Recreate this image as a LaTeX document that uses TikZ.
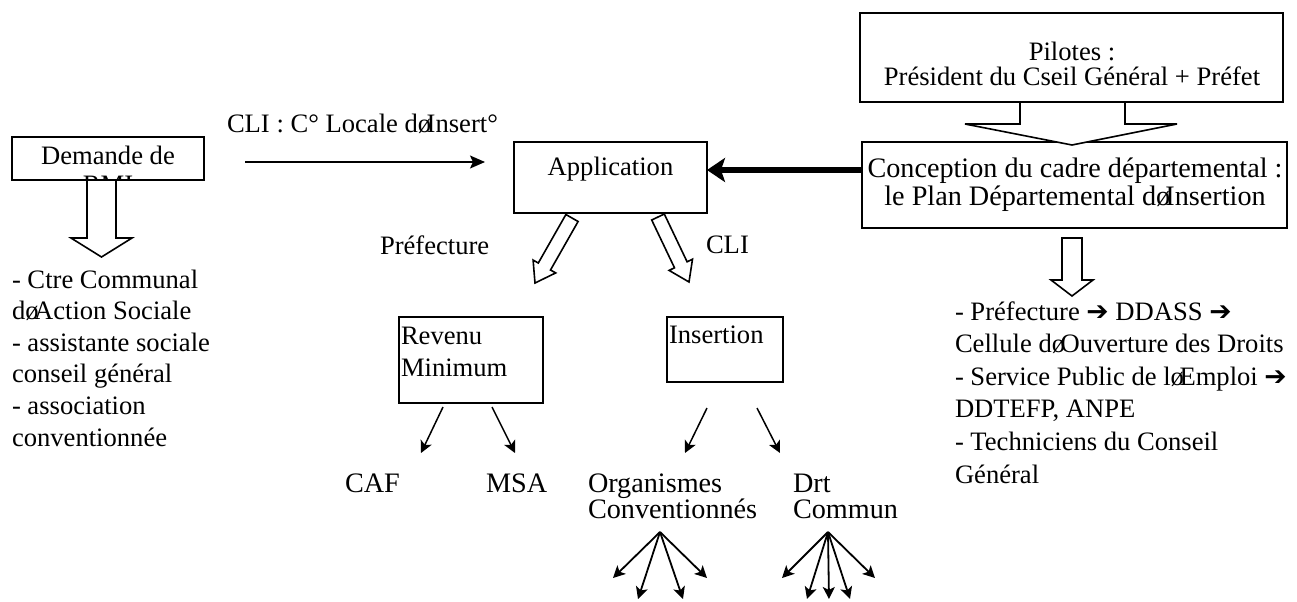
\documentclass[tikz,border=0pt]{standalone}
\usepackage{fontspec}
\setmainfont{Liberation Serif}
\newfontfamily\dejavu{DejaVu Sans}
\usetikzlibrary{arrows.meta,calc}
\newcommand{\apo}[1]{dø\kern-.17em #1}
\newcommand{\rarr}{{\dejavu ➔}}
\begin{document}
\begin{tikzpicture}[x=0.5pt,y=-0.5pt,
  box/.style={draw,line width=0.8pt,inner sep=0pt,outer sep=0pt},
  txt/.style={inner sep=0pt,outer sep=0pt,font=\fontsize{13.3}{16}\selectfont},
  txtb/.style={inner sep=0pt,outer sep=0pt,font=\fontsize{14.1}{16}\selectfont},
  arr/.style={line width=0.75pt,-{Stealth[length=6pt,width=6pt,inset=1.5pt]}},
  fan/.style={line width=0.9pt,-{Stealth[length=6pt,width=6pt,inset=1.5pt]}},
  barr/.style={draw,line width=0.8pt,fill=white,line join=miter},
  heavy/.style={line width=2.6pt,-{Stealth[length=9pt,width=12pt,inset=2pt]}}]
\useasboundingbox (0,0) rectangle (1297,601);

% ---------- boxes ----------
\node[box,minimum width=211.5pt,minimum height=44.5pt] (pil) at (1071.5,57.5) {};
\node[box,minimum width=212.5pt,minimum height=43pt] (conc) at (1074.5,185) {};
\node[box,minimum width=96.5pt,minimum height=35.5pt] (app) at (610.5,177.5) {};
\node[box,minimum width=72pt,minimum height=43pt] (rev) at (471,360) {};
\node[box,minimum width=58pt,minimum height=32.5pt] (ins) at (725,349.5) {};

% Demande box with clipped second line
\begin{scope}
  \clip (12,137) rectangle (204,179.5);
  \node[txt,anchor=base] (dem2) at (108,193) {RMI};
\end{scope}
\node[box,minimum width=96pt,minimum height=21.5pt] (dem) at (108,158.5) {};
\node[txt,anchor=base] (dem1) at (108,164) {Demande de};

% ---------- block arrows ----------
\draw[barr] (1020,102) -- (1020,124) -- (965,124) -- (1072,145) -- (1177,124) -- (1125,124) -- (1125,102) -- cycle;
\draw[box] (pil.south west) -- (pil.south east);
\draw[barr] (87,180) -- (87,238) -- (71,238) -- (101.5,257) -- (132,238) -- (116,238) -- (116,180) -- cycle;
\draw[barr] (1062,238) -- (1062,280) -- (1051,280) -- (1072,296) -- (1093,280) -- (1082,280) -- (1082,238) -- cycle;
\draw[barr] (578.1,221.5) -- (550.5,270.0) -- (555.7,272.9) -- (535,283) -- (533.1,260.1) -- (538.3,263.0) -- (565.9,214.5) -- cycle;
\draw[barr] (664.3,214.0) -- (687.1,261.8) -- (692.5,259.2) -- (689,282) -- (669.1,270.4) -- (674.5,267.8) -- (651.7,220.0) -- cycle;

% ---------- texts ----------
\node[txt,anchor=base] (pil1) at (1072,60) {Pilotes :};
\node[txt,anchor=base] (pil2) at (1072,85) {Président du Cseil Général + Préfet};
\node[txtb,anchor=base] (conc1) at (1075,177) {Conception du cadre départemental :};
\node[txtb,anchor=base] (conc2) at (1075,205) {le Plan Départemental \apo{Insertion}};
\node[txt,anchor=base] (appt) at (610.5,175) {Application};
\node[txt,anchor=base west] (clit) at (227,132) {CLI : C° Locale \apo{Insert°}};
\node[txt,anchor=base west] (pref) at (380,254) {Préfecture};
\node[txt,anchor=base west] (clil) at (706,253) {CLI};
\node[txt,anchor=base west] (rev1) at (401,344) {Revenu};
\node[txt,anchor=base west] (rev2) at (401,376) {Minimum};
\node[txt,anchor=base west] (inst) at (669,343) {Insertion};
\node[txtb,anchor=base west] (caf) at (345,492) {CAF};
\node[txtb,anchor=base west] (msa) at (486,492) {MSA};
\node[txtb,anchor=base west] (org1) at (588,492) {Organismes};
\node[txtb,anchor=base west] (org2) at (588,518) {Conventionnés};
\node[txtb,anchor=base west] (drt1) at (793,492) {Drt};
\node[txtb,anchor=base west] (drt2) at (793,518) {Commun};

\node[txt,anchor=base west] (l1) at (12,288) {- Ctre Communal};
\node[txt,anchor=base west] (l2) at (12,319.6) {\apo{Action} Sociale};
\node[txt,anchor=base west] (l3) at (12,351.2) {- assistante sociale};
\node[txt,anchor=base west] (l4) at (12,382.8) {conseil général};
\node[txt,anchor=base west] (l5) at (12,414.4) {- association};
\node[txt,anchor=base west] (l6) at (12,446) {conventionnée};

\node[txt,anchor=base west] (r1) at (955,320) {- Préfecture \rarr{} DDASS \rarr};
\node[txt,anchor=base west] (r2) at (955,352.6) {Cellule \apo{Ouverture} des Droits};
\node[txt,anchor=base west] (r3) at (955,385.2) {- Service Public de l\kern0pt ø\kern-.17em Emploi \rarr};
\node[txt,anchor=base west] (r4) at (955,417.8) {DDTEFP, ANPE};
\node[txt,anchor=base west] (r5) at (955,450.4) {- Techniciens du Conseil};
\node[txt,anchor=base west] (r6) at (955,483) {Général};

% ---------- connectors ----------
\coordinate (ty) at (0,170);
\draw[heavy] (conc.west |- ty) -- (app.east |- ty);
\coordinate (cliS) at (245,162);
\coordinate (cliE) at (485,162);
\draw[line width=0.75pt,-{Stealth[length=7.5pt,width=6.5pt,inset=1.5pt]}] (cliS) -- (cliE);

\coordinate (cafA) at (421,453);
\coordinate (msaA) at (515,453);
\draw[arr] ($(rev.south)+(-28,4)$) -- (cafA);
\draw[arr] ($(rev.south)+(21,4)$) -- (msaA);
\coordinate (orgA) at (685,453);
\coordinate (drtA) at (780,453);
\draw[arr] ($(ins.south)+(-18,26)$) -- (orgA);
\draw[arr] ($(ins.south)+(32,26)$) -- (drtA);

\coordinate (fo) at (660,532);
\coordinate (fa1) at (613,578);
\coordinate (fa2) at (638,599);
\coordinate (fa3) at (683,599);
\coordinate (fa4) at (707,578);
\foreach \e in {fa1,fa2,fa3,fa4} \draw[fan] (fo) -- (\e);
\coordinate (fd) at (828,532);
\coordinate (fd1) at (782,578);
\coordinate (fd2) at (807,599);
\coordinate (fd3) at (829,599);
\coordinate (fd4) at (850,599);
\coordinate (fd5) at (875,578);
\foreach \e in {fd1,fd2,fd3,fd4,fd5} \draw[fan] (fd) -- (\e);
\end{tikzpicture}
\end{document}
